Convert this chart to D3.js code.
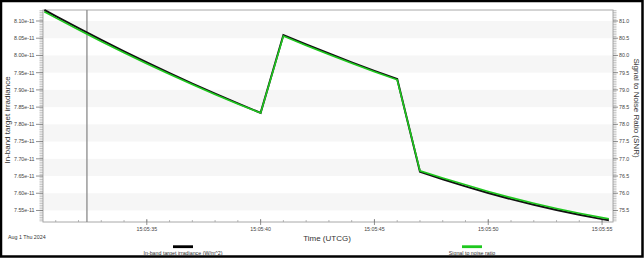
<!DOCTYPE html>
<html><head><meta charset="utf-8">
<script src="https://cdn.jsdelivr.net/npm/d3@7"></script>
<style>
html,body{margin:0;padding:0;background:#fff;}
svg{display:block;font-family:"Liberation Sans",Arial,sans-serif;}
</style></head>
<body><svg id="c" width="644" height="259"></svg>
<script>
// ---- data ----
const times = ["15:05:30.5","15:05:31","15:05:32","15:05:33","15:05:34","15:05:35","15:05:36","15:05:37","15:05:38","15:05:39","15:05:40",
  "15:05:41","15:05:42","15:05:43","15:05:44","15:05:45","15:05:46","15:05:47","15:05:48","15:05:49","15:05:50",
  "15:05:51","15:05:52","15:05:53","15:05:54","15:05:55","15:05:55.3"];
const irradiance = [8.1319,8.1140,8.0790,8.0449,8.0119,7.9797,7.9485,7.9183,7.8890,7.8607,7.8333,
  8.0594,8.0319,8.0055,7.9800,7.9554,7.9319,7.6623,7.6405,7.6199,7.6008,
  7.5829,7.5664,7.5512,7.5374,7.5249,7.5216].map(v=>v*1e-11);
const snr = [81.269,81.090,80.745,80.406,80.079,79.760,79.452,79.154,78.867,78.592,78.328,
  80.564,80.289,80.025,79.770,79.524,79.294,76.653,76.445,76.244,76.053,
  75.874,75.709,75.557,75.419,75.294,75.261];
const leftTicks = [7.55,7.60,7.65,7.70,7.75,7.80,7.85,7.90,7.95,8.00,8.05,8.10].map(v=>v*1e-11);
const rightTicks = [75.5,76.0,76.5,77.0,77.5,78.0,78.5,79.0,79.5,80.0,80.5,81.0];
const xTickLabels = ["15:05:35","15:05:40","15:05:45","15:05:50","15:05:55"];
const cursorTime = "15:05:32.37";
const timeDomain = ["15:05:30.44","15:05:55.48"];
const dateLabel = "Aug 1 Thu 2024";
const seriesNames = ["In-band target irradiance (W/m^2)","Signal to noise ratio"];

// ---- helpers ----
const toDate = s => {
  const [h,m,sec] = s.split(":");
  const ms = Math.round(parseFloat(sec)*1000);
  return new Date(Date.UTC(2024,7,1,+h,+m,0,ms));
};

const L=43,R=613,T=10,B=222;
const svg=d3.select("#c");
const x=d3.scaleUtc().domain(timeDomain.map(toDate)).range([L,R]);
const yL=d3.scaleLinear().domain([7.5166e-11,8.1319e-11]).range([B,T]);
const yR=d3.scaleLinear().domain([75.166,81.319]).range([B,T]);

// outer border
svg.append("rect").attr("x",1).attr("y",1).attr("width",641.5).attr("height",255.5)
  .attr("fill","none").attr("stroke","#000").attr("stroke-width",2.5);

// bands
for(let i=0;i<leftTicks.length-1;i++){
  if((leftTicks.length-2-i)%2===0){
    const y1=yL(leftTicks[i+1]), y2=yL(leftTicks[i]);
    svg.append("rect").attr("x",L).attr("y",y1).attr("width",R-L).attr("height",y2-y1).attr("fill","#f6f6f6");
  }
}

// frame
svg.append("rect").attr("x",L).attr("y",T).attr("width",R-L).attr("height",B-T)
  .attr("fill","none").attr("stroke","#a8a8a8").attr("stroke-width",1);

// left axis
const fmtL=d3.format(".2e");
const gL=svg.append("g").attr("transform",`translate(${L},0)`);
const minorL=d3.range(0,124).map(i=>7.52e-11+i*0.005e-11).filter(v=>yL(v)>=T&&yL(v)<=B);
gL.selectAll("line.mn").data(minorL).join("line").attr("x1",-3.5).attr("x2",0)
  .attr("y1",d=>yL(d)).attr("y2",d=>yL(d)).attr("stroke","#999").attr("stroke-width",0.6);
gL.selectAll("line.mj").data(leftTicks).join("line").attr("x1",-7).attr("x2",0)
  .attr("y1",d=>yL(d)).attr("y2",d=>yL(d)).attr("stroke","#777").attr("stroke-width",0.8);
gL.selectAll("text").data(leftTicks).join("text").attr("x",-8.5).attr("y",d=>yL(d)).attr("dy","0.35em")
  .attr("text-anchor","end").attr("font-size",5.3).attr("fill","#444").text(d=>fmtL(d));

// right axis
const gR=svg.append("g").attr("transform",`translate(${R},0)`);
const minorR=d3.range(0,130).map(i=>75.1+i*0.05).filter(v=>yR(v)>=T&&yR(v)<=B);
gR.selectAll("line.mn").data(minorR).join("line").attr("x1",0).attr("x2",3.5)
  .attr("y1",d=>yR(d)).attr("y2",d=>yR(d)).attr("stroke","#999").attr("stroke-width",0.6);
gR.selectAll("line.mj").data(rightTicks).join("line").attr("x1",0).attr("x2",5)
  .attr("y1",d=>yR(d)).attr("y2",d=>yR(d)).attr("stroke","#777").attr("stroke-width",0.8);
gR.selectAll("text").data(rightTicks).join("text").attr("x",6).attr("y",d=>yR(d)).attr("dy","0.35em")
  .attr("text-anchor","start").attr("font-size",5.3).attr("fill","#444").text(d=>d3.format(".1f")(d));

// bottom axis
const gB=svg.append("g").attr("transform",`translate(0,${B})`);
const minorT=d3.utcSecond.range(x.domain()[0],x.domain()[1]);
gB.selectAll("line.mn").data(minorT).join("line").attr("x1",d=>x(d)).attr("x2",d=>x(d))
  .attr("y1",-2).attr("y2",0).attr("stroke","#999").attr("stroke-width",0.7);
const majorT=xTickLabels.map(toDate);
gB.selectAll("line.mj").data(majorT).join("line").attr("x1",d=>x(d)).attr("x2",d=>x(d))
  .attr("y1",-3).attr("y2",3).attr("stroke","#777").attr("stroke-width",0.8);
gB.selectAll("text").data(xTickLabels).join("text").attr("x",d=>x(toDate(d))).attr("y",9)
  .attr("text-anchor","middle").attr("font-size",5.3).attr("fill","#444").text(d=>d);

// cursor line
svg.append("line").attr("x1",x(toDate(cursorTime))).attr("x2",x(toDate(cursorTime)))
  .attr("y1",T).attr("y2",B).attr("stroke","#8a8a8a").attr("stroke-width",1.3);

// lines
const data=times.map((t,i)=>({t:toDate(t),a:irradiance[i],s:snr[i]}));
svg.append("path").datum(data).attr("fill","none").attr("stroke","#111").attr("stroke-width",2)
  .attr("d",d3.line().x(d=>x(d.t)).y(d=>yL(d.a)));
svg.append("path").datum(data).attr("fill","none").attr("stroke","#1ec81e").attr("stroke-width",1.6)
  .attr("d",d3.line().x(d=>x(d.t)).y(d=>yR(d.s)));

// axis titles
svg.append("text").attr("transform",`translate(10,120) rotate(-90)`).attr("text-anchor","middle")
  .attr("font-size",8).attr("fill","#333").text("In-band target irradiance");
svg.append("text").attr("transform",`translate(634,108) rotate(90)`).attr("text-anchor","middle")
  .attr("font-size",8).attr("fill","#333").text("Signal to Noise Ratio (SNR)");
svg.append("text").attr("x",327).attr("y",241).attr("text-anchor","middle")
  .attr("font-size",8).attr("fill","#333").text("Time (UTCG)");
svg.append("text").attr("x",8).attr("y",239).attr("font-size",5.3).attr("fill","#333").text(dateLabel);

// legend
const leg=[{c:"#000",x:183},{c:"#1ec81e",x:472}];
leg.forEach((l,i)=>{
  svg.append("rect").attr("x",l.x-10).attr("y",245.3).attr("width",20).attr("height",2.8).attr("fill",l.c);
  svg.append("text").attr("x",l.x).attr("y",255).attr("text-anchor","middle").attr("font-size",5.3)
    .attr("fill","#333").text(seriesNames[i]);
});
</script></body></html>
